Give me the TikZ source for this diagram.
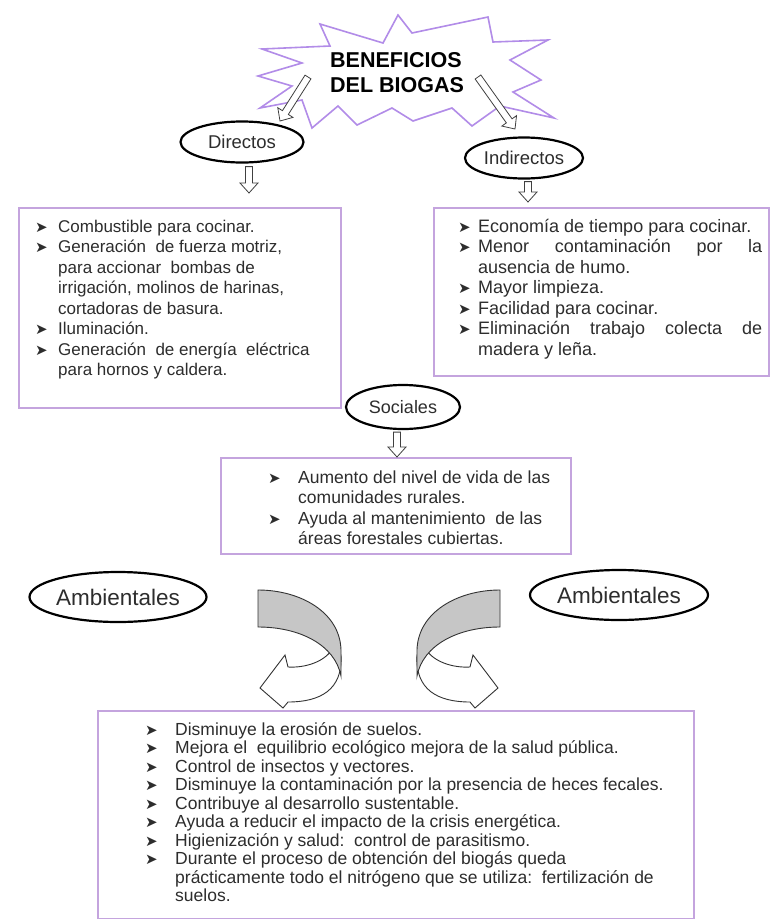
\documentclass[tikz,border=0pt]{standalone}
\usepackage{fontspec}
\setmainfont{Liberation Sans}
\newfontfamily\dejavu{DejaVu Sans}
\usetikzlibrary{calc,shapes.geometric}

\definecolor{starline}{RGB}{178,140,232}
\definecolor{boxline}{RGB}{196,164,222}
\definecolor{ribbon}{RGB}{198,198,198}
\definecolor{txt}{RGB}{45,45,45}

\newlength{\myhang}
\newcommand{\bul}{\raisebox{0pt}{\dejavu\fontsize{15}{15}\selectfont ➤}}
\newcommand{\itm}[1]{\par\hangindent=\myhang\hangafter=1\noindent\makebox[\myhang][l]{\bul}#1}
\newenvironment{itlist}[2]{\begin{minipage}[t]{#1}\setlength{\myhang}{#2}\rightskip=0pt plus 1fil\parfillskip=0pt plus 1fil\parindent=0pt\relax}{\end{minipage}}
\newcommand{\harrow}[2]{%
  \coordinate (ha-h) at ($(#2)!10pt!(#1)$);
  \draw[blockarrow] ($(#1)!3.5pt!90:(#2)$) -- ($(ha-h)!3.5pt!90:(#2)$) -- ($(ha-h)!9pt!90:(#2)$)
     -- (#2) -- ($(ha-h)!9pt!-90:(#2)$) -- ($(ha-h)!3.5pt!-90:(#2)$) -- ($(#1)!3.5pt!-90:(#2)$) -- cycle;}

\begin{document}
\begin{tikzpicture}[x=1pt,y=-1pt,
  oval/.style={ellipse, draw=black, line width=2.2pt, fill=white, inner sep=0pt, text=txt},
  panel/.style={draw=boxline, line width=2.2pt, inner sep=0pt, anchor=north west},
  listtext/.style={anchor=base west, inner sep=0pt, text=txt},
  blockarrow/.style={draw=black!75, line width=0.8pt, fill=white, line join=miter},
  burst/.style={draw=starline, line width=1.6pt, fill=white, line join=miter},
  ribbonback/.style={draw=black!80, line width=0.9pt, fill=ribbon},
  ribbonfront/.style={draw=black!80, line width=0.9pt, fill=white},
  titletext/.style={anchor=base west, inner sep=0pt, font=\bfseries\fontsize{21.5}{22}\selectfont, text=black}]

\fill[white] (0,0) rectangle (773,919);
\useasboundingbox (0,0) rectangle (773,919);

% star burst
\draw[burst] (262,49) -- (330,46) -- (320,24) -- (383,43) -- (398,15) -- (412,33) -- (488,17)
  -- (493,42) -- (548,40) -- (510,60) -- (541,80) -- (513,92) -- (554,118) -- (500,106)
  -- (472,126) -- (452,108) -- (413,121) -- (392,108) -- (357,125) -- (338,106) -- (312,128)
  -- (302,100) -- (260,108) -- (292,86) -- (258,76) -- (302,63) -- cycle;
\node[titletext] (title1) at (330,67) {BENEFICIOS};
\node[titletext] (title2) at (330,92) {DEL BIOGAS};

% ellipses
\node[oval, minimum width=123pt, minimum height=41pt, font=\fontsize{18.5}{18.5}\selectfont] (dir) at (242,142) {Directos};
\node[oval, minimum width=118pt, minimum height=41pt, font=\fontsize{18.5}{18.5}\selectfont] (ind) at (524,158) {Indirectos};
\node[oval, minimum width=114pt, minimum height=44pt, font=\fontsize{18}{18}\selectfont] (soc) at (403,407) {Sociales};
\node[oval, minimum width=177pt, minimum height=50pt, font=\fontsize{22.5}{22.5}\selectfont] (ambL) at (118,597) {Ambientales};
\node[oval, minimum width=178pt, minimum height=50pt, font=\fontsize{22.5}{22.5}\selectfont] (ambR) at (619,595) {Ambientales};

% arrows from the star
\coordinate (s1) at (308,77);
\coordinate (e1) at (280,121);
\coordinate (s2) at (478,77);
\coordinate (e2) at (515,129);
\harrow{s1}{e1}
\harrow{s2}{e2}

% panels
\node[panel, minimum width=322pt, minimum height=200pt] (dbox) at (18,207) {};
\node[panel, minimum width=335pt, minimum height=168pt] (ibox) at (433,207) {};
\node[panel, minimum width=350pt, minimum height=96pt] (sbox) at (220,457) {};
\node[panel, minimum width=596pt, minimum height=208pt] (bbox) at (97,710) {};

% down arrows
\coordinate (a1s) at ($(dir.south)+(7,3)$);
\coordinate (a1e) at ($(a1s |- dbox.north)+(0,-14)$);
\harrow{a1s}{a1e}
\coordinate (a2s) at ($(ind.south)+(4,2)$);
\coordinate (a2e) at ($(a2s |- ibox.north)+(0,-5)$);
\harrow{a2s}{a2e}
\coordinate (a3s) at ($(soc.south)+(-6,2)$);
\coordinate (a3e) at ($(a3s |- sbox.north)+(0,0)$);
\harrow{a3s}{a3e}

% texts
\node[listtext, font=\fontsize{17}{20.5}\selectfont] (dtext) at (35,232) {\begin{itlist}{300pt}{23pt}%
\itm{Combustible para cocinar.}
\itm{Generación\ \ de fuerza motriz,\newline para accionar\ \ bombas de\newline irrigación, molinos de harinas,\newline cortadoras de basura.}
\itm{Iluminación.}
\itm{Generación\ \ de energía\ \ eléctrica\newline para hornos y caldera.}
\end{itlist}};

\node[listtext, font=\fontsize{18}{20.5}\selectfont] (itext) at (458,232) {\begin{itlist}{304pt}{20pt}%
\itm{Economía de tiempo para cocinar.}
\itm{Menor\hfill contaminación\hfill por\hfill la\newline ausencia de humo.}
\itm{Mayor limpieza.}
\itm{Facilidad para cocinar.}
\itm{Eliminación\hfill trabajo\hfill colecta\hfill de\newline madera y leña.}
\end{itlist}};

\node[listtext, font=\fontsize{17.5}{20.5}\selectfont] (stext) at (268,483) {\begin{itlist}{300pt}{30pt}%
\itm{Aumento del nivel de vida de las\newline comunidades rurales.}
\itm{Ayuda al mantenimiento\ \ de las\newline áreas forestales cubiertas.}
\end{itlist}};

\node[listtext, font=\fontsize{17.5}{18.5}\selectfont] (btext) at (145,735) {\begin{itlist}{540pt}{30pt}%
\itm{Disminuye la erosión de suelos.}
\itm{Mejora el\ \ equilibrio ecológico mejora de la salud pública.}
\itm{Control de insectos y vectores.}
\itm{Disminuye la contaminación por la presencia de heces fecales.}
\itm{Contribuye al desarrollo sustentable.}
\itm{Ayuda a reducir el impacto de la crisis energética.}
\itm{Higienización y salud:\ \ control de parasitismo.}
\itm{Durante el proceso de obtención del biogás queda\newline prácticamente todo el nitrógeno que se utiliza:\ \ fertilización de\newline suelos.}
\end{itlist}};

% curved ribbon arrows (left, then mirrored right)
\begin{scope}
  \draw[ribbonfront] (341,655) .. controls (343,690) and (320,702) .. (288,702) -- (283,708) -- (260,688)
     -- (285,655) -- (288,667) .. controls (305,668) and (325,662) .. (333,648) -- cycle;
  \draw[ribbonback] (258,590) .. controls (300,590) and (340,612) .. (341,650) -- (341,676)
     .. controls (335,645) and (300,627) .. (258,627) -- cycle;
\end{scope}
\begin{scope}[xshift=758pt, xscale=-1]
  \draw[ribbonfront] (341,655) .. controls (343,690) and (320,702) .. (288,702) -- (283,708) -- (260,688)
     -- (285,655) -- (288,667) .. controls (305,668) and (325,662) .. (333,648) -- cycle;
  \draw[ribbonback] (258,590) .. controls (300,590) and (340,612) .. (341,650) -- (341,676)
     .. controls (335,645) and (300,627) .. (258,627) -- cycle;
\end{scope}
\end{tikzpicture}
\end{document}
